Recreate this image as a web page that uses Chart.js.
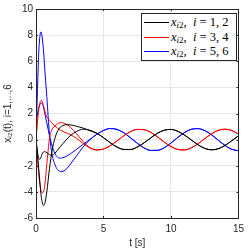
<!DOCTYPE html>
<html>
<head>
<meta charset="utf-8">
<script src="https://cdn.jsdelivr.net/npm/chart.js@4"></script>
<style>
  html, body { margin: 0; padding: 0; background: #fff; }
  #wrap { position: relative; width: 249px; height: 249px; }
  #legend {
    position: absolute; left: 141px; top: 13px; width: 96px; height: 48px;
    box-sizing: border-box; border: 1px solid #262626; background: #fff;
    font-family: "Liberation Serif", "DejaVu Serif", serif; font-size: 12.5px; color: #000;
  }
  #legend .row { position: absolute; left: 0; height: 14px; line-height: 14px; white-space: nowrap; }
  #legend .swatch { position: absolute; left: 2px; top: 7px; width: 25px; height: 0; border-top: 1px solid #000; }
  #legend .txt { position: absolute; left: 29px; top: 0; }
  #legend sub { font-size: 9px; vertical-align: -2px; line-height: 0; }
</style>
</head>
<body>
<div id="wrap">
  <canvas id="chart" width="249" height="249"></canvas>
  <div id="legend"></div>
</div>
<script>
// time samples [s]
const tSec = [0, 0.1, 0.2, 0.3, 0.37, 0.45, 0.55, 0.65, 0.8, 1.0, 1.2, 1.4, 1.6, 1.8, 2.0, 2.3, 2.6, 3.0, 3.5, 4.0, 4.5,
  5.0, 5.5, 6.0, 6.5, 7.0, 7.5, 8.0, 8.5, 9.0, 9.5, 10, 10.5, 11, 11.5, 12, 12.5, 13, 13.5, 14, 14.5, 15];

// steady oscillation (t = 5 ... 15)
const blackTail = [0.15, -0.24, -0.57, -0.75, -0.76, -0.57, -0.25, 0.13, 0.49, 0.72, 0.78, 0.64, 0.35, -0.02, -0.39, -0.67, -0.78, -0.70, -0.45, -0.09, 0.29];
const redTail   = [-0.72, -0.47, -0.10, 0.29, 0.61, 0.78, 0.76, 0.56, 0.21, -0.18, -0.53, -0.75, -0.79, -0.63, -0.32, 0.07, 0.44, 0.71, 0.80, 0.70, 0.42];
const blueTail  = [0.70, 0.85, 0.78, 0.53, 0.14, -0.27, -0.63, -0.83, -0.82, -0.62, -0.26, 0.16, 0.54, 0.79, 0.84, 0.69, 0.37, -0.04, -0.44, -0.74, -0.85];

// transients (t = 0 ... 4.5)
const black1 = [0, -1.0, -2.2, -3.4, -4.2, -4.75, -5.05, -4.9, -4.0, -2.2, -0.8, 0.1, 0.65, 0.95, 1.08, 1.15, 1.12, 1.02, 0.88, 0.68, 0.48, ...blackTail];
const black2 = [0, -0.9, -1.45, -1.5, -1.35, -1.1, -0.95, -0.92, -1.0, -1.15, -1.2, -1.05, -0.8, -0.55, -0.3, 0.05, 0.35, 0.62, 0.8, 0.72, 0.5, ...blackTail];
const red1   = [0, -1.3, -2.6, -3.5, -3.9, -4.08, -4.0, -3.5, -1.9, 0.1, 0.8, 1.05, 1.22, 1.3, 1.28, 1.15, 0.9, 0.45, -0.15, -0.6, -0.78, ...redTail];
const red2   = [0, 1.2, 2.3, 2.85, 3.0, 2.95, 2.6, 2.2, 1.75, 1.5, 1.25, 1.05, 0.88, 0.74, 0.63, 0.5, 0.35, 0.1, -0.3, -0.65, -0.79, ...redTail];
const blue1  = [0, 3.5, 6.6, 8.0, 8.25, 7.9, 6.9, 5.4, 3.3, 0.4, -1.2, -1.9, -2.3, -2.43, -2.42, -2.2, -1.8, -1.25, -0.55, 0.0, 0.4, ...blueTail];
const blue2  = [1.2, 1.9, 2.4, 2.7, 2.8, 2.78, 2.5, 2.0, 1.3, 0.3, -0.5, -1.05, -1.35, -1.42, -1.38, -1.25, -1.05, -0.75, -0.35, 0.02, 0.4, ...blueTail];

const legendIdx = ["1, 2", "3, 4", "5, 6"];
const seriesColors = ["#000000", "#ff0000", "#0000ff"];
const yTicks = [-6, -4, -2, 0, 2, 4, 6, 8, 10];
const xTicks = [0, 5, 10, 15];

const AXIS = "#262626";
const GRID = "#e6e6e6";

function pts(vals){ return tSec.map((t, i) => ({ x: t, y: vals[i] })); }

function line(vals, color){
  return {
    data: pts(vals),
    borderColor: color,
    borderWidth: 1,
    pointRadius: 0,
    fill: false,
    cubicInterpolationMode: "monotone"
  };
}

// box round the plot + inward ticks, like matlab
const boxPlugin = {
  id: "box",
  afterDatasetsDraw(chart){
    const { ctx, chartArea: a, scales } = chart;
    ctx.save();
    ctx.strokeStyle = AXIS;
    ctx.lineWidth = 1;
    ctx.beginPath();
    for (const v of xTicks){
      const px = Math.round(scales.x.getPixelForValue(v)) + 0.5;
      ctx.moveTo(px, a.bottom); ctx.lineTo(px, a.bottom - 2);
      ctx.moveTo(px, a.top); ctx.lineTo(px, a.top + 2);
    }
    for (const v of yTicks){
      const py = Math.round(scales.y.getPixelForValue(v)) + 0.5;
      ctx.moveTo(a.left, py); ctx.lineTo(a.left + 2, py);
      ctx.moveTo(a.right, py); ctx.lineTo(a.right - 2, py);
    }
    ctx.stroke();
    ctx.strokeRect(Math.round(a.left) + 0.5, Math.round(a.top) + 0.5,
      Math.round(a.right - a.left), Math.round(a.bottom - a.top));
    ctx.restore();
  }
};

const tickFont = { family: "'Liberation Sans', Arial, sans-serif", size: 10 };

new Chart(document.getElementById("chart"), {
  type: "line",
  data: {
    datasets: [
      line(black1, seriesColors[0]),
      line(black2, seriesColors[0]),
      line(red1, seriesColors[1]),
      line(red2, seriesColors[1]),
      line(blue1, seriesColors[2]),
      line(blue2, seriesColors[2])
    ]
  },
  options: {
    responsive: false,
    animation: false,
    layout: { padding: { top: 6, right: 6, left: 0, bottom: 0 } },
    plugins: { legend: { display: false }, tooltip: { enabled: false } },
    scales: {
      x: {
        type: "linear", min: 0, max: 15,
        afterBuildTicks: s => { s.ticks = xTicks.map(v => ({ value: v })); },
        afterFit: s => { s.height = 31; },
        ticks: { color: AXIS, font: tickFont, padding: 5, maxRotation: 0 },
        grid: { color: GRID, drawTicks: false },
        border: { display: false },
        title: { display: true, text: "t [s]", color: AXIS, font: tickFont, padding: { top: 0, bottom: 0 } }
      },
      y: {
        type: "linear", min: -6, max: 10,
        afterBuildTicks: s => { s.ticks = yTicks.map(v => ({ value: v })); },
        afterFit: s => { s.width = 36; },
        ticks: { color: AXIS, font: tickFont, padding: 3 },
        grid: { color: GRID, drawTicks: false },
        border: { display: false },
        title: { display: true, text: "xᵢ₂(t), i=1,...,6", color: AXIS, font: tickFont, padding: { top: 2, bottom: 0 } }
      }
    }
  },
  plugins: [boxPlugin]
});

// legend as html so the subscripts come out right
const leg = document.getElementById("legend");
legendIdx.forEach((idx, k) => {
  const row = document.createElement("div");
  row.className = "row";
  row.style.top = (1 + k * 14.5) + "px";
  row.style.width = "100%";
  row.innerHTML = '<span class="swatch" style="border-color:' + seriesColors[k] + '"></span>' +
    '<span class="txt"><i>x</i><sub><i>i</i>2</sub>, &nbsp;<i>i</i> = ' + idx + '</span>';
  leg.appendChild(row);
});
</script>
</body>
</html>
